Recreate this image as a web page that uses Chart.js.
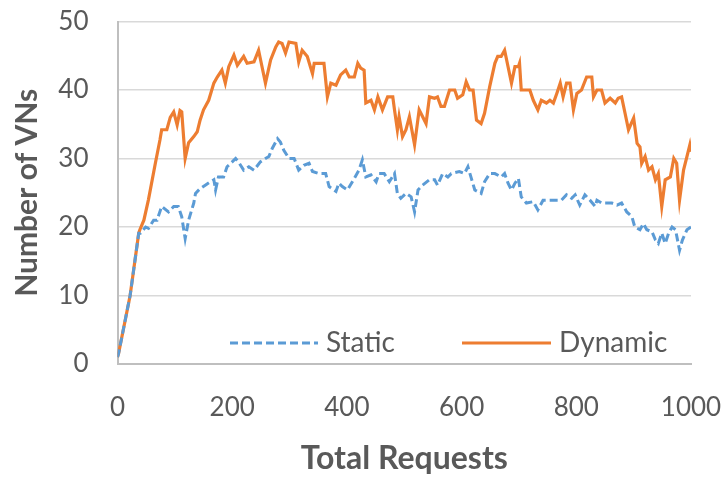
<!DOCTYPE html>
<html>
<head>
<meta charset="utf-8">
<script src="https://cdn.jsdelivr.net/npm/chart.js@4.4.1/dist/chart.umd.min.js"></script>
<style>
  html, body { margin: 0; padding: 0; background: #fff; }
</style>
</head>
<body>
<canvas id="chart" width="723" height="478"></canvas>
<script>
// values at the turning points of each curve
const staticRequests = [
  0, 2, 22, 37, 40, 45, 49, 54, 63, 69, 77, 89, 98, 106, 112, 118, 124, 133, 136, 144,
  153, 162, 168, 171, 176, 185, 191, 200, 206, 211, 220, 229, 238, 249, 258, 264, 270, 279, 284, 290,
  299, 308, 316, 325, 334, 340, 351, 363, 369, 381, 386, 392, 401, 413, 421, 427, 433, 442, 451, 456,
  465, 474, 483, 488, 494, 503, 512, 518, 524, 532, 544, 553, 558, 567, 576, 582, 596, 605, 611, 617,
  623, 634, 640, 649, 658, 669, 675, 681, 687, 693, 699, 704, 713, 725, 733, 742, 754, 766, 774, 783,
  792, 798, 806, 815, 824, 833, 836, 844, 853, 862, 871, 879, 888, 897, 902, 911, 917, 923, 932, 938,
  943, 949, 955, 961, 967, 973, 980, 985, 993, 1000
];
const staticVNs = [
  1, 1.6, 10, 19.1, 19.1, 19.6, 20, 19.8, 21, 21, 23, 22.2, 23, 23, 21.5, 18.3, 21, 23.5, 24.9, 25.6,
  26.1, 26.6, 26.9, 25.4, 27.3, 27.3, 28.8, 29.5, 30, 29.5, 28.3, 28.8, 28.3, 29.5, 30, 30.3, 31.5, 32.9, 32.4, 31.2,
  30, 30, 28.3, 29, 29.3, 28.1, 27.8, 27.8, 25.9, 25.2, 26.4, 25.9, 25.4, 27.1, 28.3, 29.8, 27.3, 27.6, 26.6, 27.8,
  27.8, 26.6, 27.8, 24.9, 24.2, 24.9, 24.4, 22.2, 25.4, 26.1, 26.9, 26.9, 26.1, 27.8, 27.3, 27.8, 28.1, 27.8, 28.8, 27.1,
  25.4, 24.9, 26.6, 27.8, 27.8, 27.3, 27.8, 26.4, 25.4, 26.4, 27.1, 24.4, 23.5, 23.7, 22.5, 23.9, 23.9, 23.9, 23.9, 24.7,
  24.2, 24.7, 23.2, 24.7, 23.9, 23, 23.9, 23.5, 23.5, 23.5, 23.2, 23.5, 22.2, 21.5, 20, 19.6, 20.5, 19.6, 19.3, 18.1,
  17.6, 19.1, 17.6, 19.1, 20, 19.6, 16.6, 18.1, 19.6, 20
];

const dynamicRequests = [
  0, 2, 22, 37, 39, 46, 54, 66, 74, 77, 86, 92, 98, 104, 109, 112, 118, 124, 133, 139,
  144, 150, 159, 168, 174, 182, 188, 194, 203, 209, 220, 226, 238, 246, 252, 258, 267, 276, 281, 287,
  293, 299, 311, 316, 322, 331, 337, 340, 343, 360, 366, 372, 381, 389, 398, 404, 413, 419, 424, 430,
  433, 442, 448, 454, 462, 471, 480, 483, 488, 491, 497, 503, 509, 518, 526, 538, 544, 553, 558, 564,
  570, 579, 588, 593, 602, 608, 614, 620, 626, 634, 640, 649, 658, 663, 669, 675, 681, 687, 693, 699,
  701, 704, 719, 725, 733, 739, 748, 754, 760, 766, 772, 777, 783, 789, 795, 801, 809, 818, 827, 830,
  836, 844, 850, 859, 868, 873, 879, 885, 891, 900, 906, 911, 914, 920, 926, 932, 938, 943, 949, 955,
  964, 970, 975, 980, 987, 993, 998, 1000
];
const dynamicVNs = [
  1, 1.6, 10, 19.1, 19.6, 21, 24, 29.3, 32.7, 34.2, 34.2, 36, 36.8, 34.9, 37, 36.8, 30, 32.3, 33.2, 33.9,
  35.6, 37.1, 38.5, 41, 41.9, 42.9, 41, 43.4, 45.1, 43.6, 44.9, 43.9, 44.1, 45.8, 43.4, 41, 44.4, 46.3, 47, 46.8,
  45.4, 47, 46.8, 44.1, 45.8, 44.9, 43.2, 42.4, 43.9, 43.9, 39, 41, 40.7, 42.2, 42.9, 41.9, 41.9, 43.9, 43.2, 42.9,
  38.1, 38.5, 37.1, 39, 37.1, 39, 39, 37.1, 34.2, 36.1, 33.2, 34.2, 36.1, 32, 37.1, 35.1, 39, 38.8, 39, 37.6,
  37.6, 40, 40, 38.8, 39.3, 41.2, 40, 40, 35.6, 35.1, 36.6, 40.5, 43.9, 44.9, 44.9, 45.8, 43.4, 41, 43.4, 43.4,
  43.9, 40, 40, 38.5, 37.1, 38.5, 38.1, 38.5, 38.1, 39.5, 41, 39, 41, 41, 37.1, 39.5, 40, 41.9, 41.9, 39,
  40, 40, 38.1, 38.8, 38.1, 38.8, 39, 36.6, 34.2, 35.9, 32.2, 31.7, 29.3, 30.3, 28.3, 28.8, 26.9, 27.8, 23, 26.9,
  27.3, 30, 29.3, 23.9, 28.3, 30.3, 32, 31
];

const seriesNames = ['Static', 'Dynamic'];
const seriesColors = ['#5B9BD5', '#ED7D31'];
const xTickValues = [0, 200, 400, 600, 800, 1000];
const yTickValues = [0, 10, 20, 30, 40, 50];

const textColor = '#595959';
const fontFamily = 'Lato, "Open Sans", sans-serif';

function toPoints(xs, ys) {
  return ys.map((v, i) => ({ x: xs[i], y: v }));
}

// legend sits inside the plot, near the bottom
const insideLegend = {
  id: 'insideLegend',
  afterDatasetsDraw(chart) {
    const ctx = chart.ctx;
    const area = chart.chartArea;
    const y = area.bottom - 21;
    const items = [
      { x0: 230, x1: 318, tx: 326, dash: [8, 4] },
      { x0: 462, x1: 551, tx: 559, dash: [] }
    ];
    ctx.save();
    items.forEach((it, i) => {
      const ds = chart.data.datasets[i];
      ctx.beginPath();
      ctx.setLineDash(it.dash);
      ctx.strokeStyle = ds.borderColor;
      ctx.lineWidth = 3;
      ctx.moveTo(it.x0, y);
      ctx.lineTo(it.x1, y);
      ctx.stroke();
      ctx.setLineDash([]);
      ctx.fillStyle = textColor;
      ctx.font = '28px ' + fontFamily;
      ctx.textBaseline = 'middle';
      ctx.textAlign = 'left';
      ctx.fillText(ds.label, it.tx, y);
    });
    ctx.restore();
  }
};

new Chart(document.getElementById('chart'), {
  type: 'line',
  data: {
    datasets: [
      {
        label: seriesNames[0],
        data: toPoints(staticRequests, staticVNs),
        borderColor: seriesColors[0],
        borderWidth: 3,
        borderDash: [8, 4],
        pointRadius: 0,
        tension: 0,
        fill: false
      },
      {
        label: seriesNames[1],
        data: toPoints(dynamicRequests, dynamicVNs),
        borderColor: seriesColors[1],
        borderWidth: 3.2,
        pointRadius: 0,
        tension: 0,
        fill: false
      }
    ]
  },
  options: {
    responsive: false,
    animation: false,
    devicePixelRatio: 1,
    layout: { padding: { left: 0, top: 21.5, right: 32, bottom: 0 } },
    plugins: {
      legend: { display: false },
      tooltip: { enabled: false }
    },
    scales: {
      x: {
        type: 'linear',
        min: 0,
        max: 1000,
        afterBuildTicks(scale) {
          scale.ticks = xTickValues.map(v => ({ value: v }));
        },
        afterFit(scale) {
          scale.height = 114;
          scale.paddingLeft = 0;
          scale.paddingRight = 0;
        },
        grid: { display: false, drawTicks: false },
        border: { display: true, color: '#bfbfbf', width: 2 },
        ticks: {
          color: textColor,
          font: { family: fontFamily, size: 26 },
          padding: 28,
          maxRotation: 0,
          callback: v => String(v)
        },
        title: {
          display: true,
          text: 'Total Requests',
          color: textColor,
          font: { family: fontFamily, size: 32, weight: 'bold' },
          padding: { top: 0, bottom: 0 }
        }
      },
      y: {
        min: 0,
        max: 50,
        afterBuildTicks(scale) {
          scale.ticks = yTickValues.map(v => ({ value: v }));
        },
        afterFit(scale) {
          scale.width = 117.5;
          scale.paddingTop = 0;
          scale.paddingBottom = 0;
        },
        grid: { color: '#d9d9d9', lineWidth: 1.5, drawTicks: false },
        border: { display: true, color: '#bfbfbf', width: 2 },
        ticks: {
          color: textColor,
          font: { family: fontFamily, size: 26 },
          padding: 29
        },
        title: {
          display: true,
          text: 'Number of VNs',
          color: textColor,
          font: { family: fontFamily, size: 30, weight: 'bold' },
          padding: { top: 9, bottom: 0 }
        }
      }
    }
  },
  plugins: [insideLegend]
});
</script>
</body>
</html>
